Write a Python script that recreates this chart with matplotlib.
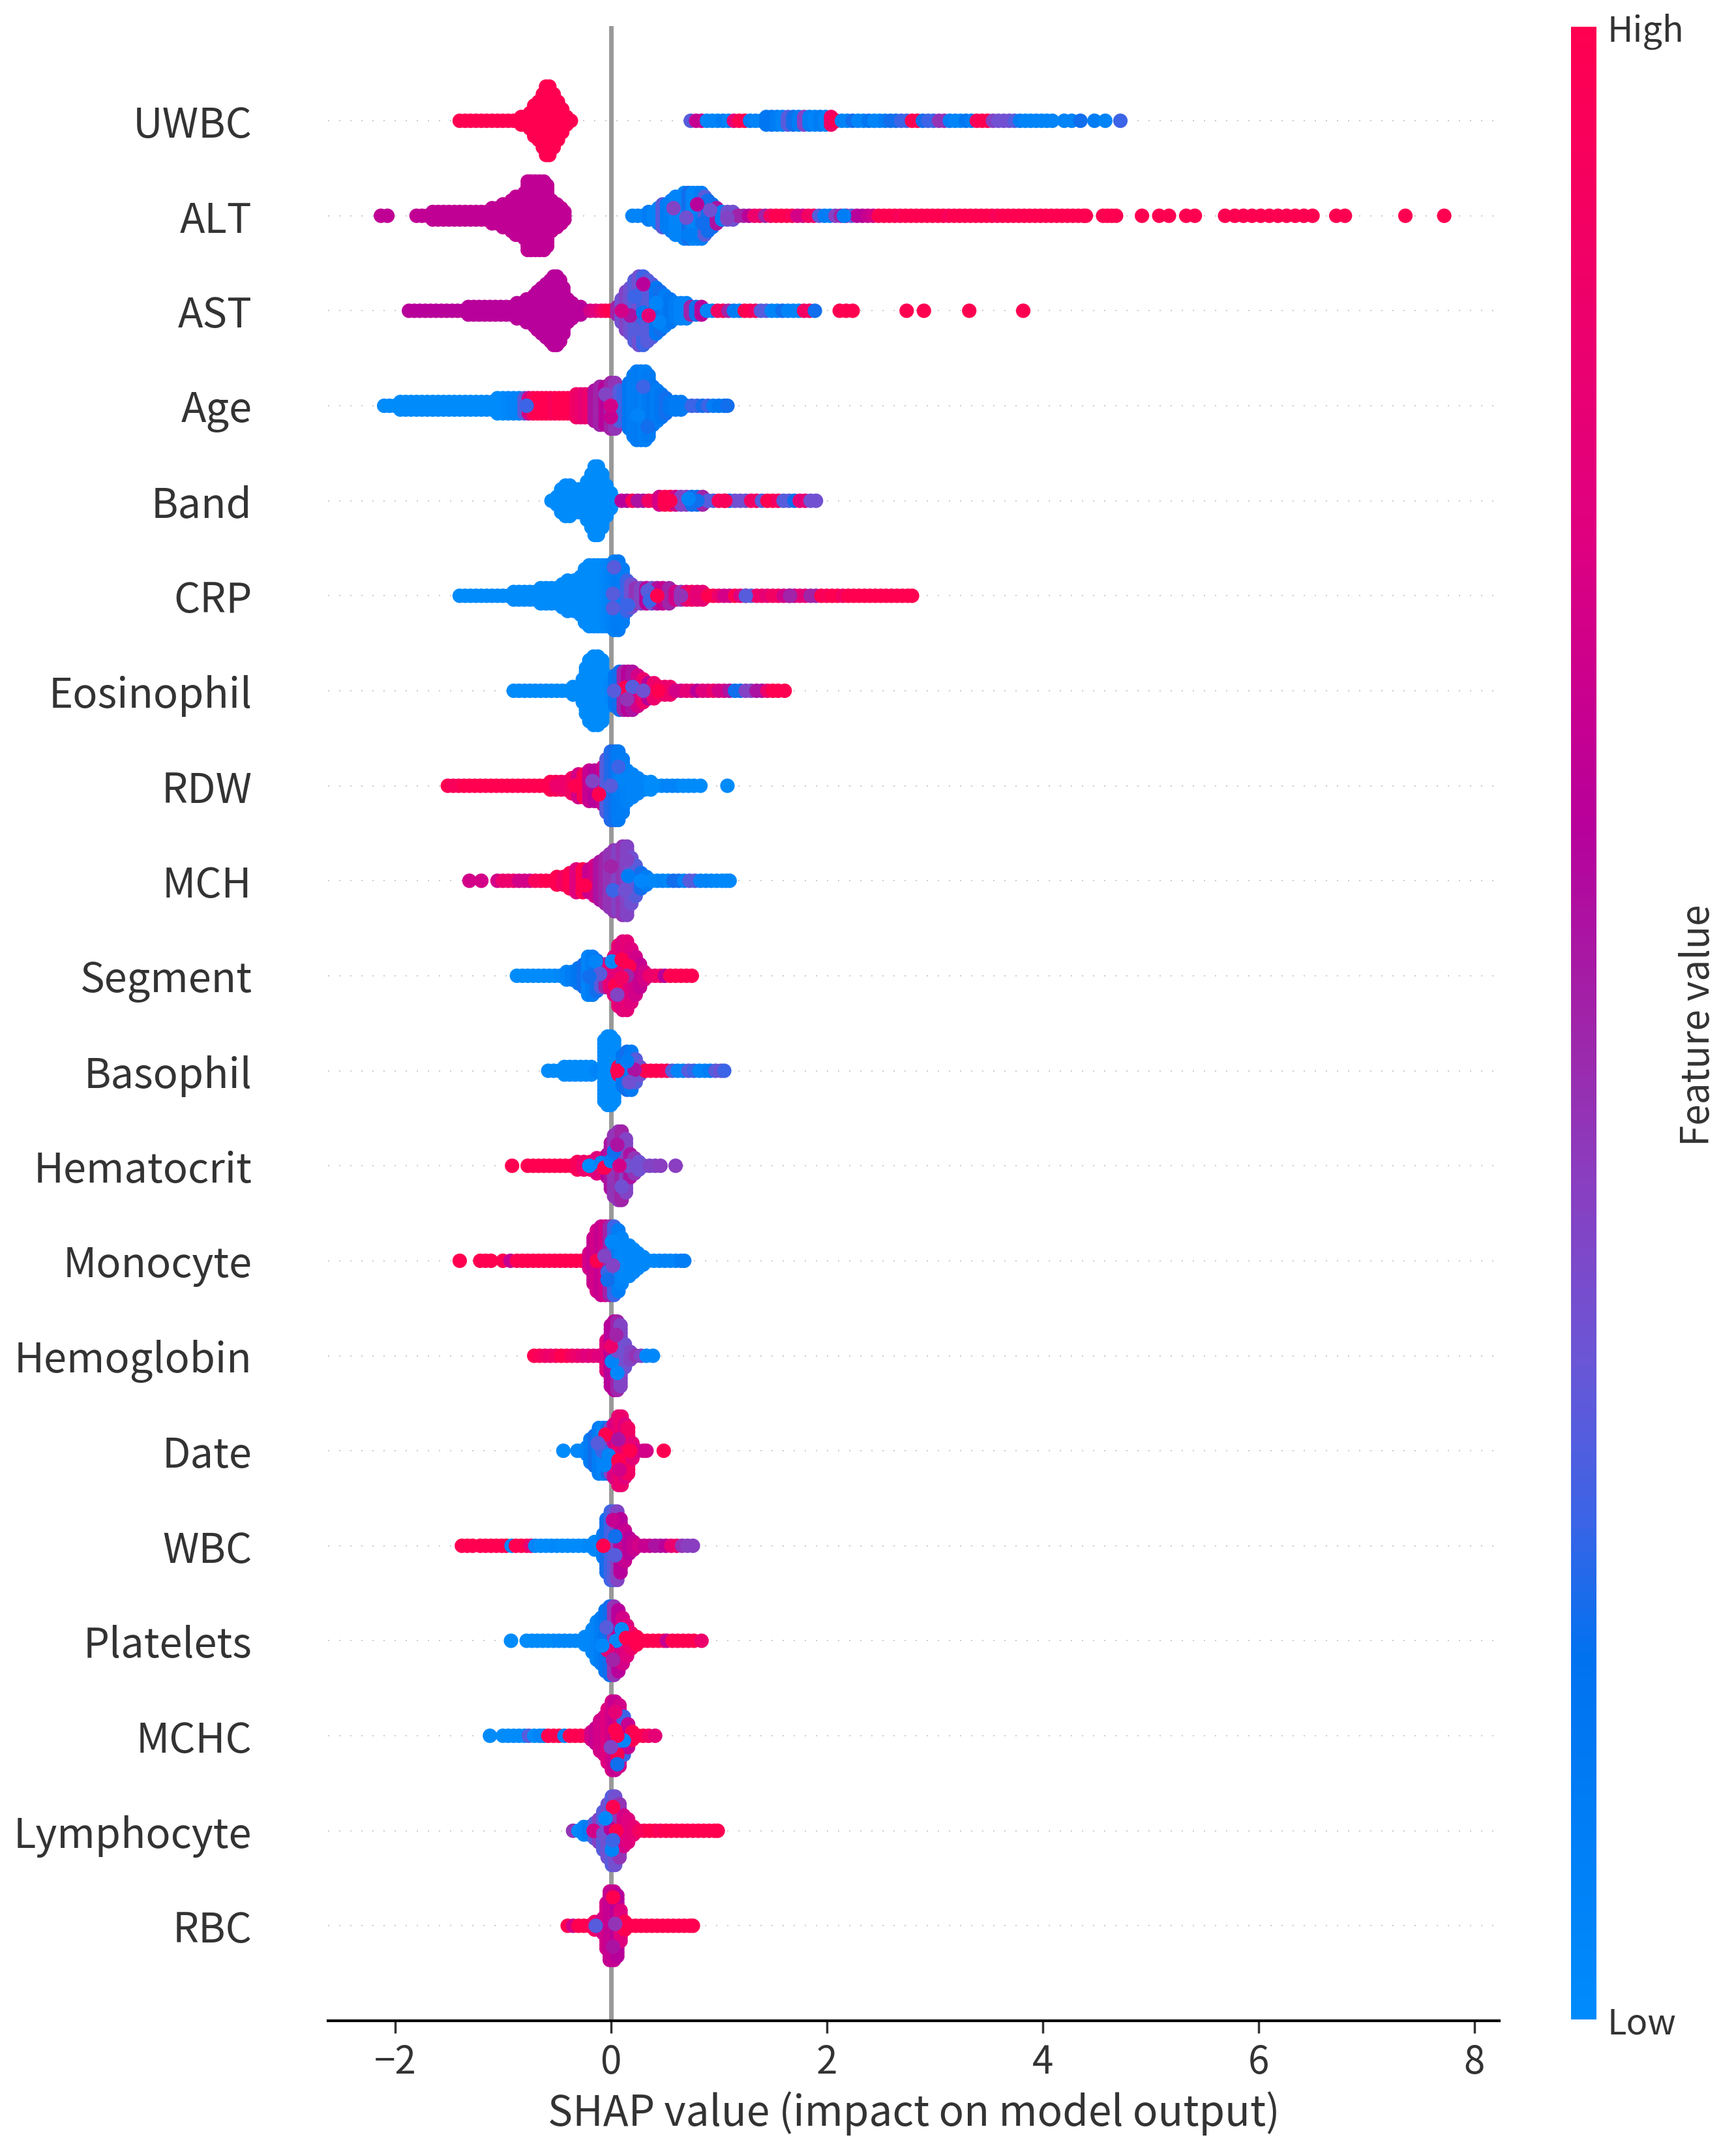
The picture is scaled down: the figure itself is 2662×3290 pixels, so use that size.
import matplotlib
matplotlib.use("Agg")
import matplotlib.pyplot as plt
from matplotlib.colors import LinearSegmentedColormap

plt.rcParams['font.family'] = ['Noto Sans CJK SC', 'DejaVu Sans']

# feature names, top row first
feature_names = ['UWBC', 'ALT', 'AST', 'Age', 'Band', 'CRP', 'Eosinophil', 'RDW', 'MCH', 'Segment',
                 'Basophil', 'Hematocrit', 'Monocyte', 'Hemoglobin', 'Date', 'WBC', 'Platelets',
                 'MCHC', 'Lymphocyte', 'RBC']

# each stack is (shap value, dots above and below the centre line, feature value)
uwbc_stacks = [
    (-1.40, 0, 1), (-1.35, 0, 1), (-1.30, 0, 1), (-1.25, 0, 1), (-1.20, 0, 1), (-1.15, 0, 1), (-1.10, 0, 1),
    (-1.05, 0, 1), (-1.00, 0, 1), (-0.95, 0, 1), (-0.90, 0, 1), (-0.86, 0, 1), (-0.83, 1, 1), (-0.79, 1, 1),
    (-0.75, 2, 1), (-0.71, 4, 1), (-0.67, 5, 1), (-0.63, 7, 1), (-0.60, 9, 1), (-0.57, 9, 1), (-0.53, 7, 1),
    (-0.49, 5, 1), (-0.45, 3, 1), (-0.41, 1, 1), (-0.37, 0, 1),
    (0.74, 0, .3), (0.79, 0, .65), (0.84, 0, .65), (0.89, 0, .05), (0.94, 0, .05), (0.99, 0, .05), (1.04, 0, .1),
    (1.09, 0, .05), (1.14, 0, .8), (1.19, 0, 1), (1.24, 0, 1), (1.29, 0, .1), (1.34, 0, .05), (1.39, 0, .05),
    (1.44, 1, .15), (1.49, 1, .15), (1.54, 1, .1), (1.59, 1, .05), (1.64, 1, .3), (1.69, 1, .2), (1.74, 1, .1),
    (1.79, 1, .4), (1.84, 1, .1), (1.89, 1, .05), (1.94, 1, .1), (1.99, 1, .05), (2.04, 1, .9), (2.09, 0, 1),
    (2.14, 0, .05), (2.19, 0, .05), (2.24, 0, .2), (2.29, 0, .05), (2.34, 0, .05), (2.39, 0, .15), (2.44, 0, .05),
    (2.49, 0, .05), (2.54, 0, .1), (2.59, 0, .2), (2.64, 0, .2), (2.69, 0, .25), (2.74, 0, .25), (2.79, 0, 1),
    (2.84, 0, 1), (2.89, 0, .2), (2.94, 0, .25), (2.99, 0, .25), (3.04, 0, .45), (3.09, 0, .45), (3.14, 0, .1),
    (3.19, 0, .05), (3.24, 0, .05), (3.29, 0, .15), (3.34, 0, .1), (3.39, 0, .95), (3.44, 0, 1), (3.49, 0, 1),
    (3.54, 0, .4), (3.59, 0, .35), (3.64, 0, .35), (3.69, 0, .35), (3.74, 0, .3), (3.79, 0, .1), (3.84, 0, .05),
    (3.89, 0, .05), (3.94, 0, .05), (3.99, 0, .05), (4.04, 0, .05), (4.09, 0, .05),
    (4.20, 0, .05), (4.27, 0, .05), (4.35, 0, .2), (4.48, 0, .1), (4.58, 0, .05), (4.72, 0, .25)]
uwbc_spots = []

alt_stacks = [
    (-2.13, 0, .63), (-2.07, 0, .63), (-1.80, 0, .63), (-1.75, 0, .63), (-1.70, 0, .63), (-1.65, 1, .63),
    (-1.60, 1, .63), (-1.55, 1, .63), (-1.50, 1, .63), (-1.45, 1, .63), (-1.40, 1, .63), (-1.35, 1, .63),
    (-1.30, 1, .63), (-1.25, 1, .63), (-1.20, 1, .63), (-1.15, 1, .63), (-1.10, 2, .63), (-1.05, 2, .63),
    (-1.00, 3, .63), (-0.96, 3, .63), (-0.92, 4, .63), (-0.88, 5, .63), (-0.84, 5, .63), (-0.80, 6, .63),
    (-0.77, 9, .63), (-0.74, 9, .63), (-0.70, 9, .63), (-0.66, 9, .63), (-0.62, 9, .63), (-0.59, 8, .63),
    (-0.55, 4, .63), (-0.50, 3, .63), (-0.46, 2, .63), (-0.43, 1, .63),
    (0.20, 0, .05), (0.25, 0, .05), (0.30, 0, .05), (0.35, 1, .1), (0.40, 1, .05), (0.44, 2, .05), (0.48, 3, .3),
    (0.52, 3, .1), (0.56, 4, .1), (0.60, 5, .05), (0.64, 5, .05), (0.68, 6, .05), (0.72, 6, .2), (0.76, 6, .05),
    (0.80, 6, .05), (0.84, 6, .1), (0.87, 5, .3), (0.90, 4, .2), (0.94, 3, .2), (0.98, 2, .55), (1.03, 1, .1),
    (1.08, 1, .35), (1.13, 1, .35), (1.18, 0, .5), (1.23, 0, .5), (1.28, 0, .6), (1.33, 0, .85), (1.38, 0, .85),
    (1.43, 0, .5), (1.48, 0, .9), (1.53, 0, 1), (1.58, 0, 1), (1.63, 0, 1), (1.68, 0, .95), (1.73, 0, .7),
    (1.78, 0, .7), (1.83, 0, .9), (1.88, 0, .9), (1.93, 0, .3), (1.98, 0, .1), (2.03, 0, .1), (2.08, 0, .4),
    (2.13, 0, .5), (2.18, 0, .5), (2.23, 0, .3), (2.28, 0, .6), (2.33, 0, .6), (2.38, 0, .65), (2.43, 0, .7),
    (2.48, 0, 1), (2.53, 0, 1), (2.58, 0, 1), (2.63, 0, 1), (2.68, 0, .95), (2.73, 0, 1), (2.78, 0, 1), (2.83, 0, 1),
    (2.88, 0, 1), (2.93, 0, 1), (2.98, 0, 1), (3.03, 0, 1), (3.08, 0, 1), (3.13, 0, .95), (3.18, 0, 1), (3.23, 0, 1),
    (3.28, 0, 1), (3.33, 0, 1), (3.38, 0, 1), (3.43, 0, 1), (3.48, 0, 1), (3.53, 0, 1), (3.58, 0, .95), (3.63, 0, 1),
    (3.68, 0, 1), (3.73, 0, 1), (3.78, 0, 1), (3.83, 0, 1), (3.88, 0, 1), (3.93, 0, 1), (3.98, 0, 1), (4.03, 0, 1),
    (4.08, 0, 1), (4.13, 0, 1), (4.18, 0, 1), (4.23, 0, 1), (4.28, 0, 1), (4.33, 0, 1), (4.38, 0, 1), (4.40, 0, 1),
    (4.56, 0, 1), (4.60, 0, 1), (4.64, 0, 1), (4.68, 0, 1), (4.92, 0, 1), (5.08, 0, 1), (5.17, 0, 1), (5.33, 0, 1),
    (5.41, 0, 1), (5.69, 0, 1), (5.78, 0, 1), (5.86, 0, 1), (5.94, 0, 1), (6.02, 0, 1), (6.10, 0, 1), (6.18, 0, 1),
    (6.26, 0, 1), (6.34, 0, 1), (6.42, 0, 1), (6.50, 0, 1), (6.72, 0, 1), (6.80, 0, 1), (7.36, 0, 1), (7.72, 0, 1)]
alt_spots = [(0.58, 0.08, .4), (0.70, -0.02, .35), (0.80, 0.12, .6), (0.85, -0.08, .2), (0.72, -0.20, .1),
             (0.92, 0.06, .35), (1.08, -0.02, .4), (2.16, 0.0, .1)]

ast_stacks = [
    (-1.87, 0, .6), (-1.82, 0, .6), (-1.77, 0, .6), (-1.72, 0, .6), (-1.67, 0, .6), (-1.62, 0, .6), (-1.57, 0, .6),
    (-1.52, 0, .6), (-1.47, 0, .6), (-1.42, 0, .6), (-1.37, 0, .6), (-1.32, 1, .6), (-1.27, 1, .6), (-1.22, 1, .6),
    (-1.17, 1, .6), (-1.12, 1, .6), (-1.07, 1, .6), (-1.02, 1, .6), (-0.97, 1, .6), (-0.92, 1, .6), (-0.87, 2, .6),
    (-0.82, 2, .6), (-0.78, 3, .6), (-0.74, 3, .6), (-0.71, 4, .6), (-0.68, 5, .6), (-0.64, 6, .6), (-0.60, 7, .6),
    (-0.56, 8, .6), (-0.53, 9, .6), (-0.50, 9, .6), (-0.47, 8, .6), (-0.44, 6, .6), (-0.40, 3, .6), (-0.36, 2, .6),
    (-0.32, 1, .6), (-0.28, 1, .6), (-0.24, 0, .6), (-0.19, 0, .7), (-0.14, 0, .75), (-0.09, 0, .85), (-0.05, 0, .95),
    (-0.01, 0, 1),
    (0.06, 1, .5), (0.10, 3, .35), (0.14, 5, .4), (0.18, 6, .35), (0.22, 8, .3), (0.26, 9, .35), (0.30, 9, .25),
    (0.34, 8, .3), (0.38, 7, .3), (0.42, 6, .15), (0.46, 5, .2), (0.50, 4, .1), (0.55, 3, .15), (0.60, 2, .1),
    (0.65, 2, .05), (0.70, 2, .05), (0.74, 1, .5), (0.79, 1, .2), (0.84, 1, .6), (0.89, 0, .05), (0.94, 0, .05),
    (0.99, 0, .9), (1.04, 0, .9), (1.09, 0, .5), (1.14, 0, .1), (1.19, 0, .1), (1.24, 0, 1), (1.29, 0, 1), (1.34, 0, .9),
    (1.39, 0, .3), (1.44, 0, .3), (1.49, 0, .05), (1.54, 0, .05), (1.59, 0, .2), (1.64, 0, .05), (1.69, 0, .05),
    (1.74, 0, .05), (1.79, 0, .9), (1.84, 0, .9), (1.89, 0, .2), (2.12, 0, 1), (2.18, 0, 1), (2.24, 0, 1),
    (2.74, 0, 1), (2.90, 0, 1), (3.32, 0, 1), (3.82, 0, 1)]
ast_spots = [(0.30, 0.28, .6), (0.18, -0.05, .55), (0.30, -0.02, .15), (0.22, -0.20, .3), (0.45, -0.12, .05),
             (0.10, 0.0, .7), (0.42, 0.08, .05), (0.35, -0.05, .8), (0.22, 0.15, .25)]

age_stacks = [
    (-2.10, 0, 0), (-2.05, 0, 0), (-2.00, 0, 0), (-1.95, 1, 0), (-1.90, 1, 0), (-1.85, 1, 0), (-1.80, 1, 0),
    (-1.75, 1, 0), (-1.70, 1, 0), (-1.65, 1, 0), (-1.60, 1, 0), (-1.55, 1, 0), (-1.50, 1, 0), (-1.45, 1, 0),
    (-1.40, 1, 0), (-1.35, 1, 0), (-1.30, 1, 0), (-1.25, 1, 0), (-1.20, 1, 0), (-1.15, 1, 0), (-1.10, 1, 0),
    (-1.05, 2, 0), (-1.00, 2, 0), (-0.95, 2, .02), (-0.90, 2, .05), (-0.85, 2, .05), (-0.80, 2, .3), (-0.76, 2, .7),
    (-0.72, 2, .95), (-0.68, 2, 1), (-0.64, 2, 1), (-0.60, 2, 1), (-0.56, 2, 1), (-0.52, 2, .95), (-0.48, 2, 1),
    (-0.44, 2, 1), (-0.40, 2, 1), (-0.36, 2, 1), (-0.32, 3, .9), (-0.28, 3, .85), (-0.24, 3, .8), (-0.20, 3, .85),
    (-0.15, 4, .55), (-0.10, 5, .5), (-0.05, 5, .6), (0.00, 6, .5), (0.04, 6, .45), (0.08, 4, .3), (0.12, 4, .25),
    (0.17, 6, .15), (0.21, 8, .1), (0.24, 9, .1), (0.28, 9, .12), (0.32, 9, .08), (0.35, 8, .12), (0.39, 5, .15),
    (0.43, 4, .1), (0.47, 3, .15), (0.51, 2, .2), (0.55, 1, .15), (0.60, 1, .12), (0.65, 1, .12), (0.70, 0, .12),
    (0.75, 0, .25), (0.80, 0, .25), (0.85, 0, .2), (0.90, 0, .25), (0.95, 0, .1), (1.00, 0, .15), (1.05, 0, .15),
    (1.08, 0, .2)]
age_spots = [(-0.05, 0.12, .4), (0.0, -0.12, .65), (0.30, 0.2, .25), (0.25, -0.1, .05), (0.34, -0.22, .2),
             (-0.78, 0.0, .25), (0.0, 0.0, .7)]

band_stacks = [
    (-0.55, 0, 0), (-0.50, 1, 0), (-0.46, 3, 0), (-0.42, 4, 0), (-0.38, 4, 0), (-0.34, 3, 0), (-0.30, 3, 0),
    (-0.26, 3, 0), (-0.22, 5, 0), (-0.18, 7, 0), (-0.15, 9, 0), (-0.12, 9, 0), (-0.08, 7, 0), (-0.04, 4, 0),
    (0.00, 2, 0), (0.05, 0, 0), (0.10, 0, .6), (0.15, 0, .6), (0.20, 0, .95), (0.25, 0, .55), (0.30, 0, .55),
    (0.35, 0, .9), (0.40, 0, .9), (0.45, 1, .7), (0.50, 1, 1), (0.55, 1, 1), (0.60, 1, .7), (0.65, 1, .4), (0.70, 1, .4),
    (0.75, 1, .2), (0.80, 1, .2), (0.85, 1, .5), (0.90, 0, .3), (0.95, 0, .3), (1.00, 0, .95), (1.05, 0, .95),
    (1.10, 0, .2), (1.15, 0, .35), (1.20, 0, .35), (1.25, 0, .35), (1.30, 0, .9), (1.35, 0, .9), (1.40, 0, .3),
    (1.45, 0, 1), (1.50, 0, 1), (1.55, 0, .9), (1.60, 0, .3), (1.65, 0, .3), (1.70, 0, .2), (1.75, 0, .8), (1.80, 0, .8),
    (1.85, 0, .35), (1.90, 0, .35)]
band_spots = [(0.55, 0.0, 1), (0.80, 0.0, .2), (1.06, 0.0, .95), (0.72, 0.02, .05)]

crp_stacks = [
    (-1.40, 0, 0), (-1.35, 0, 0), (-1.30, 0, 0), (-1.25, 0, 0), (-1.20, 0, 0), (-1.15, 0, 0), (-1.10, 0, 0),
    (-1.05, 0, 0), (-1.00, 0, 0), (-0.95, 0, 0), (-0.90, 1, 0), (-0.85, 1, 0), (-0.80, 1, 0), (-0.75, 1, 0),
    (-0.70, 1, 0), (-0.65, 2, 0), (-0.60, 2, 0), (-0.55, 2, 0), (-0.50, 2, 0), (-0.45, 3, 0), (-0.40, 4, 0),
    (-0.34, 4, 0), (-0.28, 5, 0), (-0.24, 7, 0), (-0.20, 8, 0), (-0.16, 8, 0), (-0.12, 8, 0), (-0.08, 8, 0),
    (-0.04, 8, .03), (0.00, 8, .05), (0.03, 9, .08), (0.07, 9, .12), (0.11, 7, .1), (0.15, 4, .25), (0.19, 3, .35),
    (0.23, 2, .45), (0.28, 2, .4), (0.33, 2, .6), (0.38, 2, .35), (0.43, 2, .55), (0.48, 2, .65), (0.54, 2, .5),
    (0.60, 1, .7), (0.65, 1, .45), (0.70, 1, .8), (0.75, 1, .9), (0.80, 1, .8), (0.85, 1, .8), (0.90, 0, 1), (0.95, 0, 1),
    (1.00, 0, .85), (1.05, 0, .7), (1.10, 0, .7), (1.15, 0, 1), (1.20, 0, .75), (1.25, 0, .75), (1.30, 0, .3),
    (1.35, 0, .85), (1.40, 0, .85), (1.45, 0, .8), (1.50, 0, .9), (1.55, 0, .9), (1.60, 0, .7), (1.65, 0, .7),
    (1.70, 0, .65), (1.75, 0, .8), (1.80, 0, .8), (1.85, 0, .5), (1.90, 0, .5), (1.95, 0, 1), (2.00, 0, .95),
    (2.05, 0, 1), (2.10, 0, 1), (2.15, 0, .9), (2.20, 0, 1), (2.25, 0, 1), (2.30, 0, 1), (2.35, 0, 1), (2.40, 0, 1),
    (2.45, 0, 1), (2.50, 0, 1), (2.55, 0, 1), (2.60, 0, 1), (2.65, 0, 1), (2.70, 0, 1), (2.75, 0, 1), (2.79, 0, 1)]
crp_spots = [(0.34, 0.05, .3), (0.36, -0.05, .25), (0.43, 0.0, 1), (0.65, 0.0, .45), (0.02, 0.02, .3),
             (0.02, -0.13, .3), (0.03, 0.3, .3), (0.16, -0.1, .25), (1.25, 0.0, .3), (1.66, 0.0, .5)]

eosinophil_stacks = [
    (-0.90, 0, 0), (-0.85, 0, 0), (-0.80, 0, 0), (-0.75, 0, 0), (-0.70, 0, 0), (-0.65, 0, 0), (-0.60, 0, 0),
    (-0.55, 0, 0), (-0.50, 0, 0), (-0.45, 0, 0), (-0.40, 0, 0), (-0.35, 1, 0), (-0.30, 1, 0), (-0.26, 3, 0),
    (-0.23, 6, 0), (-0.20, 8, 0), (-0.16, 9, 0), (-0.12, 9, 0), (-0.08, 8, 0), (-0.04, 4, 0), (0.00, 2, .03),
    (0.04, 4, .15), (0.08, 5, .2), (0.12, 5, .5), (0.16, 5, .6), (0.20, 5, .55), (0.25, 4, .7), (0.30, 3, .85),
    (0.35, 2, .6), (0.40, 2, .85), (0.45, 1, .9), (0.50, 1, .85), (0.55, 1, .85), (0.60, 0, .7), (0.65, 0, .7),
    (0.70, 0, .8), (0.75, 0, .8), (0.80, 0, .6), (0.85, 0, .75), (0.90, 0, .75), (0.95, 0, .85), (1.00, 0, .7),
    (1.05, 0, .7), (1.10, 0, .55), (1.15, 0, .2), (1.20, 0, .2), (1.25, 0, .4), (1.30, 0, .4), (1.35, 0, .55),
    (1.40, 0, .55), (1.45, 0, .85), (1.50, 0, 1), (1.55, 0, 1), (1.61, 0, 1)]
eosinophil_spots = [(0.13, 0.03, 1), (0.20, 0.04, .3), (0.15, -0.09, .45), (0.30, 0.0, .35), (0.44, 0.0, 1),
                    (0.03, 0.0, .3)]

rdw_stacks = [
    (-1.51, 0, 1), (-1.46, 0, .95), (-1.41, 0, .95), (-1.36, 0, 1), (-1.31, 0, 1), (-1.26, 0, 1), (-1.21, 0, 1),
    (-1.16, 0, 1), (-1.11, 0, 1), (-1.06, 0, 1), (-1.01, 0, 1), (-0.96, 0, 1), (-0.91, 0, 1), (-0.86, 0, 1),
    (-0.81, 0, 1), (-0.76, 0, 1), (-0.71, 0, 1), (-0.66, 0, 1), (-0.61, 0, 1), (-0.56, 1, 1), (-0.51, 1, .95),
    (-0.46, 1, .9), (-0.41, 1, .85), (-0.36, 2, .9), (-0.30, 3, .7), (-0.25, 3, 1), (-0.20, 4, .65), (-0.15, 4, .6),
    (-0.11, 4, .6), (-0.07, 5, .65), (-0.04, 7, .3), (0.00, 9, .22), (0.04, 9, .2), (0.07, 9, .12), (0.11, 7, .1),
    (0.15, 4, .07), (0.20, 3, .05), (0.25, 2, .05), (0.31, 1, .05), (0.37, 1, 0), (0.42, 0, 0), (0.47, 0, 0),
    (0.52, 0, .05), (0.57, 0, .05), (0.62, 0, .05), (0.67, 0, 0), (0.72, 0, 0), (0.77, 0, 0), (0.83, 0, 0), (1.08, 0, 0)]
rdw_spots = [(-0.50, 0.0, .85), (-0.33, 0.0, 1), (-0.17, 0.05, .4), (-0.11, -0.09, 1), (0.10, 0.07, .05),
             (0.0, 0.0, .3), (0.07, 0.2, .25)]

mch_stacks = [
    (-1.31, 0, .7), (-1.20, 0, .7), (-1.05, 0, .7), (-1.00, 0, .85), (-0.95, 0, .85), (-0.90, 0, .85), (-0.85, 0, .7),
    (-0.80, 0, .7), (-0.75, 0, .7), (-0.70, 0, .95), (-0.65, 0, .95), (-0.60, 0, 1), (-0.55, 0, 1), (-0.50, 1, 1),
    (-0.44, 1, .9), (-0.38, 2, 1), (-0.32, 3, .75), (-0.26, 3, 1), (-0.20, 3, .65), (-0.15, 4, .7), (-0.10, 5, .55),
    (-0.05, 6, .5), (-0.01, 7, .45), (0.03, 8, .45), (0.07, 8, .4), (0.11, 9, .45), (0.15, 9, .4), (0.19, 6, .35),
    (0.23, 4, .3), (0.28, 2, .2), (0.33, 1, .1), (0.38, 0, .02), (0.43, 0, .02), (0.48, 0, .05), (0.53, 0, .02),
    (0.58, 0, .2), (0.63, 0, .2), (0.68, 0, .05), (0.73, 0, .3), (0.78, 0, .3), (0.83, 0, .05), (0.88, 0, .05),
    (0.93, 0, .05), (0.98, 0, .02), (1.03, 0, .02), (1.07, 0, .02), (1.10, 0, .02)]
mch_spots = [(0.02, -0.1, .25), (0.16, 0.05, .1), (0.13, -0.1, .35), (0.28, 0.0, .02), (-0.24, -0.05, 1),
             (0.0, 0.15, .5), (0.15, 0.22, .4)]

segment_stacks = [
    (-0.87, 0, 0), (-0.82, 0, 0), (-0.77, 0, 0), (-0.72, 0, 0), (-0.67, 0, 0), (-0.62, 0, 0), (-0.57, 0, 0),
    (-0.52, 0, 0), (-0.47, 0, .03), (-0.41, 1, .05), (-0.36, 1, .1), (-0.30, 2, .15), (-0.25, 3, .2), (-0.21, 5, .05),
    (-0.17, 5, .1), (-0.13, 4, .2), (-0.09, 3, .3), (-0.05, 3, .5), (-0.01, 3, .8), (0.03, 5, .75), (0.07, 8, .8),
    (0.11, 9, .75), (0.15, 9, .8), (0.19, 7, .75), (0.23, 5, .7), (0.27, 3, .65), (0.31, 1, .7), (0.36, 0, .85),
    (0.41, 0, .85), (0.46, 0, .9), (0.50, 0, .6), (0.55, 0, 1), (0.60, 0, 1), (0.65, 0, 1), (0.70, 0, 1), (0.75, 0, 1)]
segment_spots = [(-0.14, 0.15, .05), (0.01, 0.15, .02), (-0.10, 0.02, .3), (0.10, 0.17, 1), (0.17, 0.1, 1),
                 (0.04, -0.1, 1), (0.15, 0.0, .5), (0.10, -0.02, .9), (0.06, -0.2, .4), (-0.2, -0.01, .2)]

basophil_stacks = [
    (-0.58, 0, 0), (-0.53, 0, 0), (-0.48, 0, 0), (-0.43, 1, 0), (-0.38, 1, 0), (-0.33, 1, 0), (-0.28, 1, 0),
    (-0.23, 1, 0), (-0.18, 1, 0), (-0.13, 0, .05), (-0.06, 8, 0), (-0.03, 9, 0), (0.00, 9, 0), (0.03, 8, 0),
    (0.07, 1, 1), (0.11, 4, .15), (0.15, 5, .2), (0.19, 5, .12), (0.23, 3, .3), (0.27, 1, .35), (0.32, 0, 1),
    (0.37, 0, 1), (0.42, 0, 1), (0.47, 0, 1), (0.52, 0, .95), (0.57, 0, .3), (0.62, 0, .05), (0.67, 0, .05),
    (0.72, 0, .3), (0.77, 0, .25), (0.82, 0, .05), (0.87, 0, .05), (0.92, 0, .1), (0.97, 0, .3), (1.02, 0, .35),
    (1.05, 0, .25)]
basophil_spots = [(0.06, 0.0, 1), (0.22, 0.01, .55), (0.15, 0.1, .1), (0.17, -0.12, .35)]

hematocrit_stacks = [
    (-0.915, 0, 1), (-0.77, 0, 1), (-0.72, 0, 1), (-0.67, 0, 1), (-0.62, 0, 1), (-0.57, 0, 1), (-0.52, 0, 1),
    (-0.47, 0, 1), (-0.42, 0, 1), (-0.37, 0, 1), (-0.31, 1, .95), (-0.25, 1, .85), (-0.19, 1, .9), (-0.13, 2, .75),
    (-0.07, 2, .8), (-0.03, 3, .6), (0.00, 6, .55), (0.03, 8, .45), (0.07, 9, .45), (0.10, 9, .5), (0.14, 7, .4),
    (0.18, 3, .55), (0.22, 2, .45), (0.26, 1, .35), (0.31, 0, .35), (0.36, 0, .4), (0.41, 0, .4), (0.46, 0, .42),
    (0.60, 0, .42)]
hematocrit_spots = [(-0.20, 0.0, 0), (-0.09, 0.03, .05), (-0.06, -0.02, 1), (0.0, 0.05, .1), (0.16, 0.0, .35),
                    (0.10, -0.22, .35), (0.03, 0.15, .2), (0.08, 0.0, .7), (0.06, 0.22, .55)]

monocyte_stacks = [
    (-1.40, 0, 1), (-1.21, 0, 1), (-1.16, 0, 1), (-1.11, 0, 1), (-1.00, 0, 1), (-0.93, 0, .65), (-0.87, 0, 1),
    (-0.82, 0, 1), (-0.77, 0, 1), (-0.72, 0, 1), (-0.67, 0, 1), (-0.62, 0, 1), (-0.57, 0, 1), (-0.52, 0, 1),
    (-0.47, 0, 1), (-0.42, 0, 1), (-0.37, 0, 1), (-0.32, 0, 1), (-0.27, 0, 1), (-0.23, 0, 1), (-0.20, 2, .7),
    (-0.16, 6, .65), (-0.13, 8, .7), (-0.09, 9, .65), (-0.05, 9, .7), (-0.01, 9, .5), (0.03, 9, .25), (0.07, 8, .1),
    (0.10, 6, .05), (0.13, 4, .03), (0.17, 4, .03), (0.21, 3, .02), (0.25, 2, .02), (0.30, 1, .02), (0.35, 0, .02),
    (0.40, 0, .02), (0.45, 0, .02), (0.50, 0, .05), (0.55, 0, .05), (0.60, 0, .05), (0.65, 0, .1), (0.68, 0, .1)]
monocyte_spots = [(-0.13, 0.0, 1), (-0.03, -0.12, .25), (-0.03, -0.2, .2), (0.01, 0.2, .02), (0.09, 0.0, .02),
                  (-0.06, 0.05, .4), (0.02, -0.05, .4)]

hemoglobin_stacks = [
    (-0.71, 0, 1), (-0.66, 0, .95), (-0.61, 0, .9), (-0.56, 0, .85), (-0.51, 0, .9), (-0.46, 0, 1), (-0.41, 0, 1),
    (-0.36, 0, .9), (-0.31, 0, .85), (-0.26, 0, .8), (-0.21, 0, .75), (-0.16, 0, .8), (-0.11, 0, .75), (-0.07, 0, .75),
    (-0.04, 4, .75), (0.00, 8, .6), (0.03, 9, .6), (0.06, 9, .5), (0.09, 8, .4), (0.13, 3, .35), (0.18, 1, .4),
    (0.23, 0, .45), (0.28, 0, .4), (0.33, 0, .02), (0.39, 0, .02)]
hemoglobin_spots = [(0.01, -0.06, .05), (0.06, -0.18, .02), (0.06, 0.05, .35), (0.0, 0.1, .85), (0.05, 0.22, .5)]

date_stacks = [
    (-0.44, 0, 0), (-0.31, 0, .02), (-0.27, 0, .02), (-0.22, 1, .05), (-0.19, 3, .1), (-0.15, 4, .2), (-0.11, 6, .1),
    (-0.07, 6, .05), (-0.03, 6, .2), (0.00, 6, .4), (0.03, 7, .7), (0.07, 9, .8), (0.10, 9, .85), (0.13, 7, .75),
    (0.16, 6, .9), (0.20, 2, .8), (0.25, 0, .7), (0.30, 0, .7), (0.33, 0, .7), (0.49, 0, 1)]
date_spots = [(-0.05, 0.17, 1), (-0.08, 0.0, .25), (-0.02, -0.05, .05), (0.07, -0.1, 1), (0.18, 0.0, 1),
              (-0.06, -0.15, .05), (0.07, 0.12, .55), (0.08, -0.2, .7), (-0.12, 0.08, .3)]

wbc_stacks = [
    (-1.38, 0, 1), (-1.33, 0, 1), (-1.28, 0, 1), (-1.21, 0, 1), (-1.16, 0, 1), (-1.11, 0, 1), (-1.06, 0, 1),
    (-1.01, 0, 1), (-0.97, 0, 1), (-0.92, 0, .02), (-0.88, 0, 1), (-0.83, 0, 1), (-0.78, 0, 1), (-0.74, 0, .8),
    (-0.70, 0, .05), (-0.65, 0, 0), (-0.60, 0, 0), (-0.55, 0, 0), (-0.50, 0, .02), (-0.45, 0, 0), (-0.40, 0, 0),
    (-0.35, 0, 0), (-0.30, 0, 0), (-0.25, 0, 0), (-0.20, 0, .02), (-0.15, 1, .02), (-0.10, 1, .02), (-0.07, 3, .1),
    (-0.04, 7, .2), (0.00, 9, .25), (0.03, 9, .3), (0.06, 9, .4), (0.09, 7, .6), (0.13, 4, .65), (0.17, 2, .6),
    (0.21, 1, .65), (0.26, 0, .7), (0.31, 0, .65), (0.36, 0, .65), (0.41, 0, .55), (0.46, 0, .55), (0.51, 0, .6),
    (0.56, 0, .8), (0.61, 0, .85), (0.66, 0, .45), (0.71, 0, .42), (0.76, 0, .42)]
wbc_spots = [(-0.07, 0.0, 1), (0.04, 0.1, .2), (0.04, -0.1, .3), (0.02, 0.27, .65)]

platelets_stacks = [
    (-0.925, 0, 0), (-0.78, 0, 0), (-0.73, 0, 0), (-0.68, 0, 0), (-0.63, 0, 0), (-0.58, 0, 0), (-0.53, 0, 0),
    (-0.48, 0, .02), (-0.43, 0, .02), (-0.38, 0, .02), (-0.33, 0, .03), (-0.28, 0, .03), (-0.24, 1, .02), (-0.20, 1, .02),
    (-0.17, 3, .03), (-0.13, 5, .05), (-0.09, 6, .1), (-0.05, 8, .15), (-0.01, 9, .2), (0.03, 9, .45), (0.07, 8, .6),
    (0.11, 6, .7), (0.15, 4, .75), (0.19, 2, .85), (0.24, 1, 1), (0.29, 0, 1), (0.34, 0, 1), (0.39, 0, 1), (0.44, 0, 1),
    (0.49, 0, 1), (0.52, 0, .65), (0.57, 0, 1), (0.62, 0, 1), (0.67, 0, 1), (0.72, 0, 1), (0.77, 0, 1), (0.84, 0, .85)]
platelets_spots = [(0.10, 0.12, .02), (0.05, 0.0, .02), (-0.04, 0.14, .3), (-0.03, -0.1, .8), (0.02, -0.2, .5),
                   (-0.08, -0.05, .02), (0.14, 0.03, 1)]

mchc_stacks = [
    (-1.12, 0, 0), (-1.00, 0, 0), (-0.95, 0, 0), (-0.90, 0, 0), (-0.85, 0, 0), (-0.80, 0, 0), (-0.76, 0, .3),
    (-0.71, 0, 0), (-0.66, 0, .05), (-0.62, 0, .05), (-0.58, 0, 1), (-0.53, 0, 1), (-0.48, 0, 1), (-0.43, 0, .1),
    (-0.38, 0, 1), (-0.33, 0, 1), (-0.28, 0, 1), (-0.23, 0, .95), (-0.18, 1, .7), (-0.14, 2, .65), (-0.10, 4, .7),
    (-0.06, 5, .7), (-0.03, 7, .75), (0.01, 9, .7), (0.04, 9, .65), (0.08, 8, .7), (0.12, 5, .25), (0.16, 3, .65),
    (0.20, 1, 1), (0.25, 0, 1), (0.30, 0, 1), (0.35, 0, .9), (0.41, 0, .8)]
mchc_spots = [(0.12, -0.05, .05), (0.06, 0.0, 1), (0.06, -0.2, 1), (0.04, 0.25, .8), (0.04, 0.06, 1),
              (0.0, -0.12, .4), (0.06, -0.3, .2)]

lymphocyte_stacks = [
    (-0.35, 0, .45), (-0.30, 0, .02), (-0.25, 1, .05), (-0.20, 1, .1), (-0.15, 2, .3), (-0.11, 3, .4), (-0.07, 5, .3),
    (-0.03, 7, .35), (0.01, 9, .3), (0.04, 9, .35), (0.08, 7, .45), (0.12, 4, .7), (0.16, 3, .75), (0.21, 1, .8),
    (0.26, 0, .9), (0.31, 0, .95), (0.36, 0, 1), (0.41, 0, 1), (0.46, 0, .95), (0.51, 0, 1), (0.56, 0, 1), (0.61, 0, 1),
    (0.66, 0, 1), (0.71, 0, 1), (0.76, 0, 1), (0.81, 0, 1), (0.86, 0, 1), (0.91, 0, 1), (0.96, 0, 1), (0.99, 0, 1)]
lymphocyte_spots = [(-0.16, 0.0, .7), (-0.07, -0.03, .35), (0.0, 0.02, .6), (0.05, 0.0, 1), (0.02, 0.25, 1),
                    (-0.05, 0.13, .02), (0.01, -0.2, .05), (0.02, -0.1, .25)]

rbc_stacks = [
    (-0.40, 0, 1), (-0.35, 0, .7), (-0.30, 0, 1), (-0.25, 0, 1), (-0.20, 0, 1), (-0.15, 1, .9), (-0.10, 1, .8),
    (-0.07, 2, .7), (-0.04, 6, .7), (-0.01, 9, .65), (0.03, 9, .65), (0.06, 8, .6), (0.09, 4, .75), (0.13, 1, 1),
    (0.18, 0, 1), (0.23, 0, 1), (0.28, 0, 1), (0.33, 0, 1), (0.38, 0, 1), (0.43, 0, 1), (0.48, 0, 1), (0.53, 0, 1),
    (0.58, 0, 1), (0.63, 0, 1), (0.68, 0, 1), (0.73, 0, 1), (0.76, 0, 1)]
rbc_spots = [(-0.14, 0.0, .3), (0.04, 0.02, .45), (0.02, 0.3, 1), (0.02, -0.22, .55)]

all_stacks = [uwbc_stacks, alt_stacks, ast_stacks, age_stacks, band_stacks, crp_stacks, eosinophil_stacks,
              rdw_stacks, mch_stacks, segment_stacks, basophil_stacks, hematocrit_stacks, monocyte_stacks,
              hemoglobin_stacks, date_stacks, wbc_stacks, platelets_stacks, mchc_stacks, lymphocyte_stacks,
              rbc_stacks]
all_spots = [uwbc_spots, alt_spots, ast_spots, age_spots, band_spots, crp_spots, eosinophil_spots, rdw_spots,
             mch_spots, segment_spots, basophil_spots, hematocrit_spots, monocyte_spots, hemoglobin_spots,
             date_spots, wbc_spots, platelets_spots, mchc_spots, lymphocyte_spots, rbc_spots]

x_ticks = [-2, 0, 2, 4, 6, 8]

red_blue = LinearSegmentedColormap.from_list('red_blue', [
    (0.0, '#008bfb'), (0.18, '#0072f0'), (0.25, '#3b64e6'), (0.33, '#6a56d6'), (0.42, '#8a3ec0'),
    (0.5, '#a024a8'), (0.6, '#b8009a'), (0.75, '#e0007f'), (1.0, '#ff0051')])

W, H = 2662, 3291
LAYER = 0.04  # row units between stacked dots

fig = plt.figure(figsize=(W / 100, H / 100), dpi=100)
ax = fig.add_axes([503 / W, 1 - 3099 / H, (2299 - 503) / W, (3099 - 40.5) / H])

n_rows = len(feature_names)
ax.axvline(0, color='#999999', lw=5, zorder=-1)

for i, name in enumerate(feature_names):
    row = n_rows - 1 - i
    ax.axhline(row, color='#cccccc', lw=1.44, linestyle=(0, (1, 7.5)), zorder=-2)

    xs, ys, vals = [], [], []
    # outer dots first so the centre line ends up on top
    for x, n, v in all_stacks[i]:
        for k in range(n, 0, -1):
            xs += [x, x]
            ys += [row + k * LAYER, row - k * LAYER]
            vals += [v, v]
        xs.append(x)
        ys.append(row)
        vals.append(v)
    for x, dy, v in all_spots[i]:
        xs.append(x)
        ys.append(row + dy)
        vals.append(v)
    ax.scatter(xs, ys, c=vals, cmap=red_blue, vmin=0, vmax=1, s=255, linewidths=0, zorder=3)

ax.set_xlim(-2.62, 8.23)
ax.set_ylim(-1, n_rows)
ax.set_yticks(range(n_rows))
ax.set_yticklabels(feature_names[::-1], fontsize=45.5, color='#333333')
ax.tick_params(axis='y', length=0, pad=84)
ax.set_xticks(x_ticks)
ax.tick_params(axis='x', length=14, width=2.5, color='#333333', labelsize=42, labelcolor='#333333', pad=10)
ax.set_xlabel('SHAP value (impact on model output)', fontsize=46, color='#333333', labelpad=9)
for side in ['top', 'left', 'right']:
    ax.spines[side].set_visible(False)
ax.spines['bottom'].set_linewidth(3)
ax.spines['bottom'].set_color('#000000')

cax = fig.add_axes([2409 / W, 1 - 3097 / H, 39 / W, (3097 - 42) / H])
sm = plt.cm.ScalarMappable(cmap=red_blue, norm=plt.Normalize(0, 1))
cb = fig.colorbar(sm, cax=cax, ticks=[0, 1])
cb.set_ticklabels(['Low', 'High'])
cb.ax.tick_params(labelsize=39, length=0, pad=12, labelcolor='#333333')
cb.outline.set_visible(False)
fig.text(2605 / W, 1 - 1572 / H, 'Feature value', rotation=90, fontsize=42, color='#333333',
         ha='center', va='center')

fig.savefig('out.png', dpi=100)
